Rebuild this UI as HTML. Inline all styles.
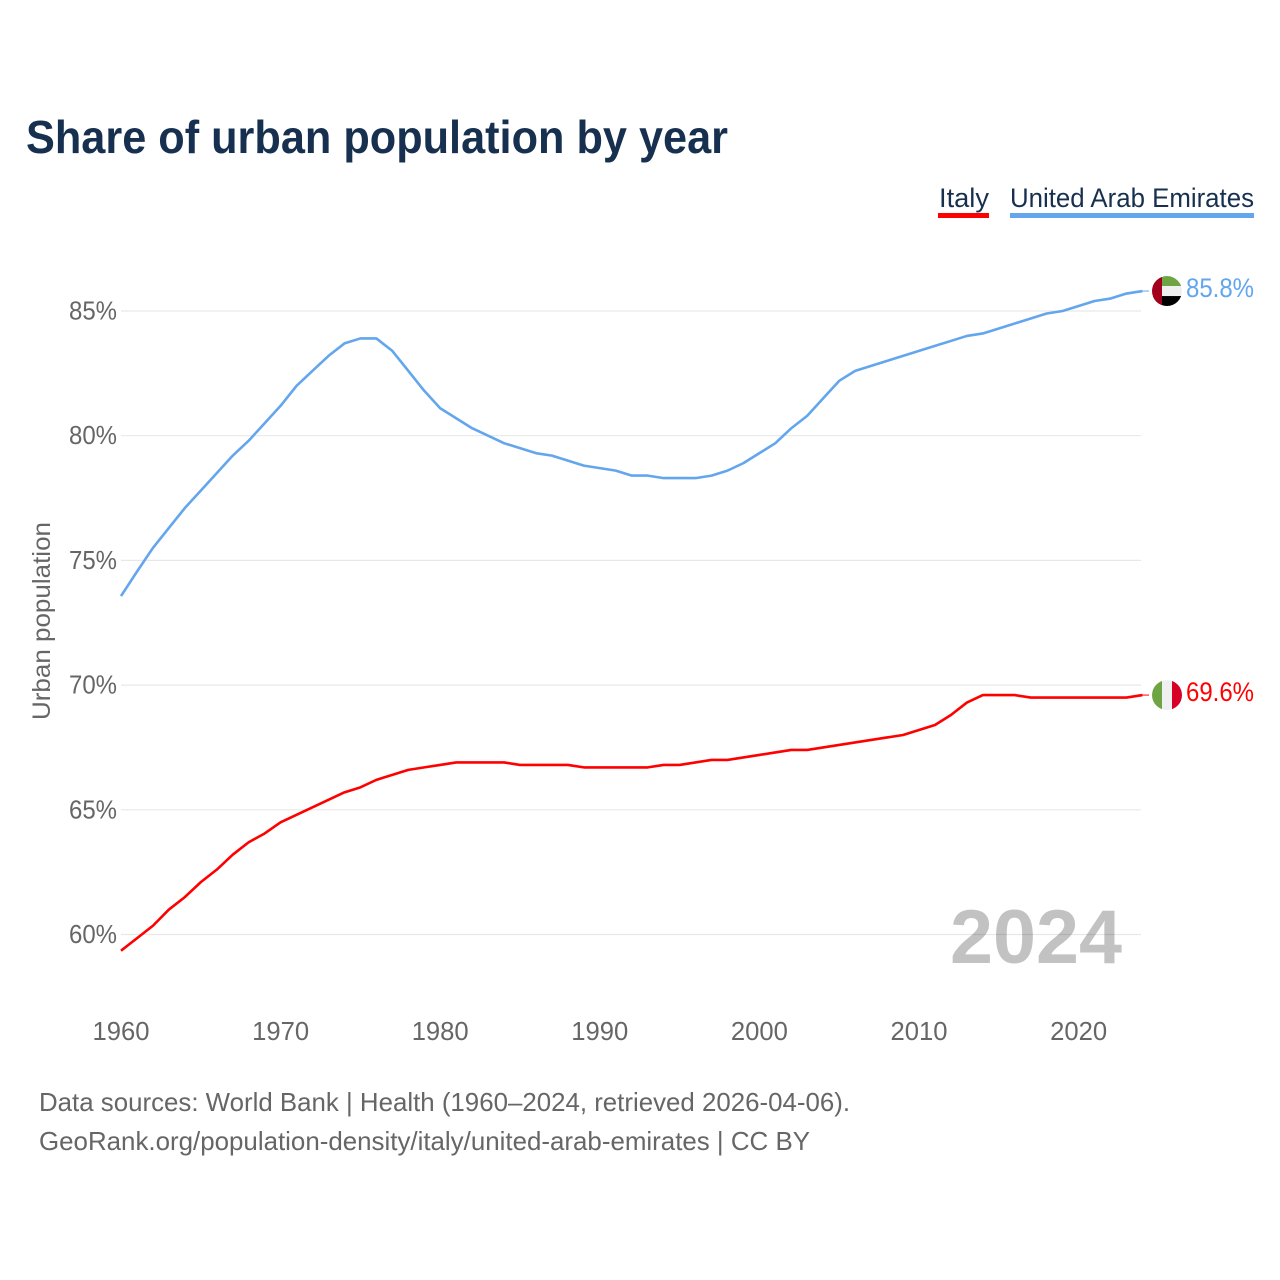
<!DOCTYPE html>
<html>
<head>
<meta charset="utf-8">
<title>Share of urban population by year</title>
<style>
html,body{margin:0;padding:0;background:#fff;width:1280px;height:1280px;overflow:hidden}
svg{display:block}
text{font-family:"Liberation Sans",sans-serif}
</style>
</head>
<body>
<svg id="chart" xmlns="http://www.w3.org/2000/svg" width="1280" height="1280" viewBox="0 0 1280 1280">
<defs>
<clipPath id="flag-ae-clip"><circle cx="1167" cy="0" r="15"/></clipPath>
<clipPath id="flag-it-clip"><circle cx="1167" cy="0" r="15"/></clipPath>
</defs>
<rect width="1280" height="1280" fill="#fff"/>
<text x="26" y="153" font-size="46" font-weight="700" fill="#17304f" textLength="702" lengthAdjust="spacingAndGlyphs">Share of urban population by year</text>
<g>
<text x="939" y="207" font-size="27" fill="#17304f" textLength="50" lengthAdjust="spacingAndGlyphs">Italy</text>
<rect x="938" y="213" width="51" height="5" fill="#ff0000"/>
</g>
<g>
<text x="1010" y="207" font-size="27" fill="#17304f" textLength="244" lengthAdjust="spacingAndGlyphs">United Arab Emirates</text>
<rect x="1010" y="213" width="244" height="5" fill="#63a6ee"/>
</g>
<text id="year-watermark" x="1122" y="963" text-anchor="end" font-size="76" font-weight="700" fill="#c2c2c2" textLength="172" lengthAdjust="spacingAndGlyphs">2024</text>
<g id="grid"></g>
<g id="yticks"></g>
<g id="xticks"></g>
<text transform="translate(50,621) rotate(-90)" text-anchor="middle" font-size="25" fill="#666" textLength="198" lengthAdjust="spacingAndGlyphs">Urban population</text>
<path id="line-italy" fill="none" stroke="#ff0000" stroke-width="2.6" stroke-linejoin="round"/>
<path id="line-uae" fill="none" stroke="#63a6ee" stroke-width="2.6" stroke-linejoin="round"/>
<line id="leader-italy" stroke="#ff0000" stroke-width="1"/>
<line id="leader-uae" stroke="#63a6ee" stroke-width="1"/>
<g id="flag-uae">
<g clip-path="url(#flag-ae-clip)">
<rect x="1152" y="-15" width="30" height="10" fill="#6da544"/>
<rect x="1152" y="-5" width="30" height="10" fill="#f0f0f0"/>
<rect x="1152" y="5" width="30" height="10" fill="#000"/>
<rect x="1152" y="-15" width="10" height="30" fill="#a2001d"/>
</g>
</g>
<g id="flag-italy">
<g clip-path="url(#flag-it-clip)">
<rect x="1152" y="-15" width="10" height="30" fill="#6da544"/>
<rect x="1162" y="-15" width="10" height="30" fill="#f0f0f0"/>
<rect x="1172" y="-15" width="10" height="30" fill="#d80027"/>
</g>
</g>
<text id="value-uae" x="1186" y="297" font-size="27" fill="#63a6ee" textLength="68" lengthAdjust="spacingAndGlyphs"></text>
<text id="value-italy" x="1186" y="701" font-size="27" fill="#ff0000" textLength="68" lengthAdjust="spacingAndGlyphs"></text>
<text x="39" y="1111" font-size="26" fill="#666" textLength="811" lengthAdjust="spacingAndGlyphs">Data sources: World Bank | Health (1960–2024, retrieved 2026-04-06).</text>
<text x="39" y="1150" font-size="26" fill="#666" textLength="771" lengthAdjust="spacingAndGlyphs">GeoRank.org/population-density/italy/united-arab-emirates | CC BY</text>
</svg>
<script>
const startYear = 1960;
const yTickValues = [60, 65, 70, 75, 80, 85];
const xTickYears = [1960, 1970, 1980, 1990, 2000, 2010, 2020];
const italyValues = [59.35,59.85,60.35,61.0,61.5,62.1,62.6,63.2,63.7,64.05,64.5,64.8,65.1,65.4,65.7,65.9,66.2,66.4,66.6,66.7,66.8,66.9,66.9,66.9,66.9,66.8,66.8,66.8,66.8,66.7,66.7,66.7,66.7,66.7,66.8,66.8,66.9,67.0,67.0,67.1,67.2,67.3,67.4,67.4,67.5,67.6,67.7,67.8,67.9,68.0,68.2,68.4,68.8,69.3,69.6,69.6,69.6,69.5,69.5,69.5,69.5,69.5,69.5,69.5,69.6];
const uaeValues = [73.57,74.55,75.5,76.3,77.1,77.8,78.5,79.2,79.8,80.5,81.2,82.0,82.6,83.2,83.7,83.9,83.9,83.4,82.6,81.8,81.1,80.7,80.3,80.0,79.7,79.5,79.3,79.2,79.0,78.8,78.7,78.6,78.4,78.4,78.3,78.3,78.3,78.4,78.6,78.9,79.3,79.7,80.3,80.8,81.5,82.2,82.6,82.8,83.0,83.2,83.4,83.6,83.8,84.0,84.1,84.3,84.5,84.7,84.9,85.0,85.2,85.4,85.5,85.7,85.8];

const NS = 'http://www.w3.org/2000/svg';
function xScale(year) { return 121 + (year - 1960) * 15.96; }
function yScale(v) { return 311 + (85 - v) * 24.94; }

const gridG = document.getElementById('grid');
const yG = document.getElementById('yticks');
const xG = document.getElementById('xticks');

yTickValues.forEach(function (v) {
  const l = document.createElementNS(NS, 'line');
  
  
  l.setAttribute('x1', 121);
  l.setAttribute('x2', 1141);
  l.setAttribute('y1', yScale(v));
  l.setAttribute('y2', yScale(v));
  l.setAttribute('stroke', 'rgba(0,0,0,0.09)');
  l.setAttribute('stroke-width', '1.2');
  gridG.appendChild(l);
  const t = document.createElementNS(NS, 'text');
  
  
  t.setAttribute('x', 69);
  t.setAttribute('y', yScale(v) + 8.5);
  t.setAttribute('font-size', '26');
  t.setAttribute('fill', '#666');
  t.setAttribute('textLength', '48');
  t.setAttribute('lengthAdjust', 'spacingAndGlyphs');
  t.textContent = v + '%';
  yG.appendChild(t);
});

xTickYears.forEach(function (yr) {
  const t = document.createElementNS(NS, 'text');
  
  
  t.setAttribute('x', xScale(yr) - 28.5);
  t.setAttribute('y', 1040);
  t.setAttribute('font-size', '26');
  t.setAttribute('fill', '#666');
  t.setAttribute('textLength', '57');
  t.setAttribute('lengthAdjust', 'spacingAndGlyphs');
  t.textContent = yr;
  xG.appendChild(t);
});

function linePath(values) {
  return values.map(function (v, i) {
    return (i ? 'L' : 'M') + xScale(startYear + i).toFixed(2) + ' ' + yScale(v).toFixed(2);
  }).join(' ');
}
document.getElementById('line-italy').setAttribute('d', linePath(italyValues));
document.getElementById('line-uae').setAttribute('d', linePath(uaeValues));

function placeEnd(values, key) {
  const last = values[values.length - 1];
  const y = yScale(last);
  const x = xScale(startYear + values.length - 1);
  const leader = document.getElementById('leader-' + key);
  leader.setAttribute('x1', x);
  leader.setAttribute('x2', 1149);
  leader.setAttribute('y1', y);
  leader.setAttribute('y2', y);
  document.getElementById('flag-' + key).setAttribute('transform', 'translate(0,' + y + ')');
  const lab = document.getElementById('value-' + key);
  lab.setAttribute('y', y + 6);
  lab.textContent = last.toFixed(1) + '%';
}
placeEnd(italyValues, 'italy');
placeEnd(uaeValues, 'uae');
</script>
</body>
</html>
